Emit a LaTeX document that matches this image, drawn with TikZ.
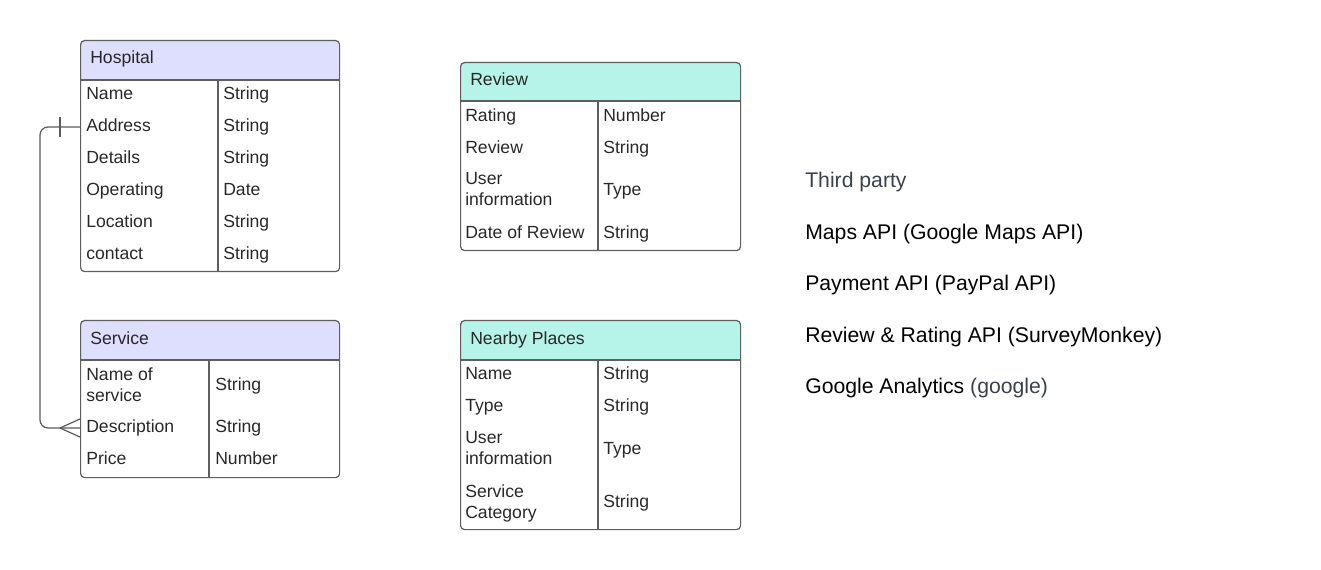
\documentclass[tikz,border=0pt]{standalone}
\usepackage{fontspec}
\setmainfont{Liberation Sans}
\usetikzlibrary{calc}
\definecolor{bordercol}{RGB}{94,94,94}
\definecolor{hdrA}{RGB}{222,222,254}
\definecolor{hdrB}{RGB}{182,243,233}
\definecolor{txtcol}{RGB}{40,40,40}
\definecolor{graytxt}{RGB}{58,65,74}
\definecolor{conncol}{RGB}{90,90,90}
\begin{document}
\begin{tikzpicture}[x=0.75pt,y=-0.75pt,
  tbl/.style={draw=bordercol, line width=0.9pt, rounded corners=3pt, anchor=north west, inner sep=0pt},
  sepline/.style={draw=bordercol, line width=0.9pt},
  cell/.style={anchor=west, inner sep=0pt, font=\fontsize{13.2}{15.75}\selectfont, align=left, text=txtcol,
    execute at begin node=\strut, execute at end node=\strut},
  hdr/.style={cell},
  tp/.style={anchor=west, inner sep=0pt, font=\fontsize{15.9}{19}\selectfont, text=black,
    execute at begin node=\strut},
  conn/.style={draw=conncol, line width=0.9pt}]
\useasboundingbox (0,0) rectangle (1321,570);

% ---------- Hospital ----------
\fill[hdrA, rounded corners=3pt] (80,40) rectangle (339,80);
\fill[hdrA] (80,66) rectangle (339,80);
\node[tbl, minimum width=194.25pt, minimum height=173.25pt] (hosp) at (80,40) {};
\draw[sepline] (80,80) -- (339,80);
\draw[sepline] (218,80) -- (218,271);
\node[hdr] (hosph) at (90,59.5) {Hospital};
\node[cell] (h1) at (86,95) {Name};
\node[cell] (h2) at (86,127) {Address};
\node[cell] (h3) at (86,159) {Details};
\node[cell] (h4) at (86,191) {Operating};
\node[cell] (h5) at (86,223) {Location};
\node[cell] (h6) at (86,255) {contact};
\node[cell] (ht1) at (223,95) {String};
\node[cell] (ht2) at (223,127) {String};
\node[cell] (ht3) at (223,159) {String};
\node[cell] (ht4) at (223,191) {Date};
\node[cell] (ht5) at (223,223) {String};
\node[cell] (ht6) at (223,255) {String};

% ---------- Service ----------
\fill[hdrA, rounded corners=3pt] (80,320) rectangle (339,360);
\fill[hdrA] (80,346) rectangle (339,360);
\node[tbl, minimum width=194.25pt, minimum height=117.75pt] (serv) at (80,320) {};
\draw[sepline] (80,360) -- (339,360);
\draw[sepline] (209,360) -- (209,477);
\node[hdr] (servh) at (90,340) {Service};
\node[cell] (s1) at (86,387.5) {Name of\\service};
\node[cell] (s2) at (86,428) {Description};
\node[cell] (s3) at (86,460) {Price};
\node[cell] (st1) at (215,386) {String};
\node[cell] (st2) at (215,428) {String};
\node[cell] (st3) at (215,460) {Number};

% ---------- Review ----------
\fill[hdrB, rounded corners=3pt] (460,62) rectangle (740,101);
\fill[hdrB] (460,88) rectangle (740,101);
\node[tbl, minimum width=210pt, minimum height=141pt] (rev) at (460,62) {};
\draw[sepline] (460,101) -- (740,101);
\draw[sepline] (598,101) -- (598,250);
\node[hdr] (revh) at (470,81.5) {Review};
\node[cell] (r1) at (465,117) {Rating};
\node[cell] (r2) at (465,149) {Review};
\node[cell] (r3) at (465,192.5) {User\\information};
\node[cell] (r4) at (465,234) {Date of Review};
\node[cell] (rt1) at (603,117) {Number};
\node[cell] (rt2) at (603,149) {String};
\node[cell] (rt3) at (603,191) {Type};
\node[cell] (rt4) at (603,234) {String};

% ---------- Nearby Places ----------
\fill[hdrB, rounded corners=3pt] (460,320) rectangle (740,360);
\fill[hdrB] (460,346) rectangle (740,360);
\node[tbl, minimum width=210pt, minimum height=156.75pt] (near) at (460,320) {};
\draw[sepline] (460,360) -- (740,360);
\draw[sepline] (598,360) -- (598,529);
\node[hdr] (nearh) at (470,340) {Nearby Places};
\node[cell] (n1) at (465,375) {Name};
\node[cell] (n2) at (465,407) {Type};
\node[cell] (n3) at (465,451.5) {User\\information};
\node[cell] (n4) at (465,504.5) {Service\\Category};
\node[cell] (nt1) at (603,375) {String};
\node[cell] (nt2) at (603,407) {String};
\node[cell] (nt3) at (603,450) {Type};
\node[cell] (nt4) at (603,503) {String};

% ---------- Third party ----------
\node[tp, text=graytxt] (tp0) at (805,182.5) {Third party};
\node[tp] (tp1) at (805,234.5) {Maps API (Google Maps API)};
\node[tp] (tp2) at (805,285.5) {Payment API (PayPal API)};
\node[tp] (tp3) at (805,337.5) {Review \& Rating API (SurveyMonkey)};
\node[tp] (tp4) at (805,388.5) {Google Analytics \textcolor{graytxt}{(google)}};

% ---------- Connector ----------
\draw[conn, rounded corners=6pt] (hosp.west |- h2.west) -- ++(-40,0) |- (serv.west |- s2.west);
\draw[conn] ($(hosp.west |- h2.west)+(-20,-10)$) -- ++(0,20);
\draw[conn] ($(serv.west |- s2.west)+(-20,0)$) -- ($(serv.west |- s2.west)+(0,-9)$);
\draw[conn] ($(serv.west |- s2.west)+(-20,0)$) -- ($(serv.west |- s2.west)+(0,9)$);
\end{tikzpicture}
\end{document}
